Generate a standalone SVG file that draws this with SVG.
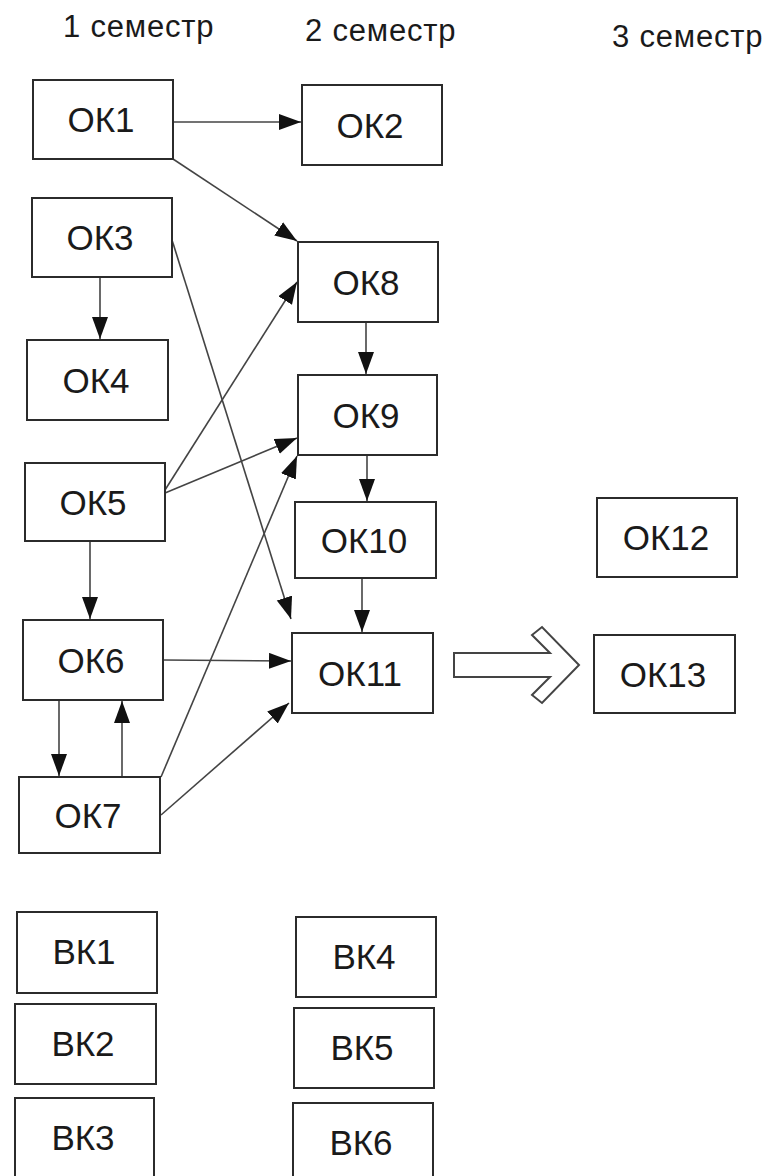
<svg xmlns="http://www.w3.org/2000/svg" width="763" height="1176" viewBox="0 0 763 1176">
<style>
.box{fill:#fff;stroke:#2b2b2b;stroke-width:2}
.lbl{font-family:"Liberation Sans",Arial,sans-serif;font-size:35px;fill:#1a1a1a;text-anchor:middle}
.hdr{font-family:"Liberation Sans",Arial,sans-serif;font-size:31px;fill:#1a1a1a;letter-spacing:0.8px}
.con{fill:none;stroke:#444;stroke-width:1.6;marker-end:url(#ah)}
.big{fill:#fff;stroke:#444;stroke-width:2;stroke-linejoin:miter}
</style>
<defs>
<marker id="ah" markerUnits="userSpaceOnUse" markerWidth="24" markerHeight="18" refX="22" refY="8" orient="auto">
<path d="M0,0 L22,8 L0,16 z" fill="#111"/>
</marker>
</defs>
<rect width="763" height="1176" fill="#fff"/>
<g id="headers">
<text class="hdr" x="63" y="37">1 семестр</text>
<text class="hdr" x="305" y="41">2 семестр</text>
<text class="hdr" x="612" y="47">3 семестр</text>
</g>
<g id="connectors">
<line class="con" x1="174" y1="122" x2="301" y2="122"/>
<line class="con" x1="173" y1="159" x2="297" y2="241"/>
<line class="con" x1="100" y1="277" x2="100" y2="339"/>
<line class="con" x1="172" y1="240" x2="291" y2="619"/>
<line class="con" x1="165" y1="490" x2="297" y2="282"/>
<line class="con" x1="165" y1="493" x2="297" y2="438"/>
<line class="con" x1="90" y1="541" x2="90" y2="619"/>
<line class="con" x1="163" y1="660" x2="291" y2="661"/>
<line class="con" x1="59" y1="700" x2="59" y2="776"/>
<line class="con" x1="122" y1="777" x2="122" y2="701"/>
<line class="con" x1="161" y1="777" x2="297" y2="456"/>
<line class="con" x1="161" y1="815" x2="289" y2="703"/>
<line class="con" x1="366" y1="322" x2="366" y2="374"/>
<line class="con" x1="367" y1="455" x2="367" y2="501"/>
<line class="con" x1="362" y1="578" x2="362" y2="632"/>
<polygon class="big" points="454,653 550,653 532,635 542,627 579,665 542,703 532,695 550,677 454,677"/>
</g>
<g id="OK1"><rect class="box" x="33" y="80" width="140" height="79"/><text class="lbl" x="101" y="132">ОК1</text></g>
<g id="OK2"><rect class="box" x="302" y="85" width="140" height="80"/><text class="lbl" x="370" y="138">ОК2</text></g>
<g id="OK3"><rect class="box" x="32" y="198" width="140" height="79"/><text class="lbl" x="100" y="250">ОК3</text></g>
<g id="OK8"><rect class="box" x="298" y="242" width="140" height="80"/><text class="lbl" x="366" y="295">ОК8</text></g>
<g id="OK4"><rect class="box" x="27" y="340" width="141" height="80"/><text class="lbl" x="96" y="393">ОК4</text></g>
<g id="OK9"><rect class="box" x="298" y="375" width="139" height="80"/><text class="lbl" x="366" y="428">ОК9</text></g>
<g id="OK5"><rect class="box" x="25" y="463" width="140" height="78"/><text class="lbl" x="93" y="515">ОК5</text></g>
<g id="OK10"><rect class="box" x="295" y="502" width="141" height="76"/><text class="lbl" x="364" y="553">ОК10</text></g>
<g id="OK12"><rect class="box" x="597" y="498" width="140" height="79"/><text class="lbl" x="666" y="550">ОК12</text></g>
<g id="OK6"><rect class="box" x="23" y="620" width="140" height="80"/><text class="lbl" x="91" y="673">ОК6</text></g>
<g id="OK11"><rect class="box" x="292" y="633" width="141" height="80"/><text class="lbl" x="360" y="686">ОК11</text></g>
<g id="OK13"><rect class="box" x="594" y="635" width="141" height="78"/><text class="lbl" x="663" y="687">ОК13</text></g>
<g id="OK7"><rect class="box" x="19" y="777" width="141" height="76"/><text class="lbl" x="88" y="828">ОК7</text></g>
<g id="BK1"><rect class="box" x="17" y="912" width="140" height="81"/><text class="lbl" x="84" y="964">ВК1</text></g>
<g id="BK2"><rect class="box" x="15" y="1004" width="141" height="80"/><text class="lbl" x="83" y="1056">ВК2</text></g>
<g id="BK3"><rect class="box" x="15" y="1098" width="139" height="80"/><text class="lbl" x="83" y="1150">ВК3</text></g>
<g id="BK4"><rect class="box" x="296" y="917" width="140" height="80"/><text class="lbl" x="364" y="969">ВК4</text></g>
<g id="BK5"><rect class="box" x="294" y="1008" width="140" height="80"/><text class="lbl" x="362" y="1060">ВК5</text></g>
<g id="BK6"><rect class="box" x="293" y="1103" width="140" height="80"/><text class="lbl" x="361" y="1155">ВК6</text></g>
</svg>
